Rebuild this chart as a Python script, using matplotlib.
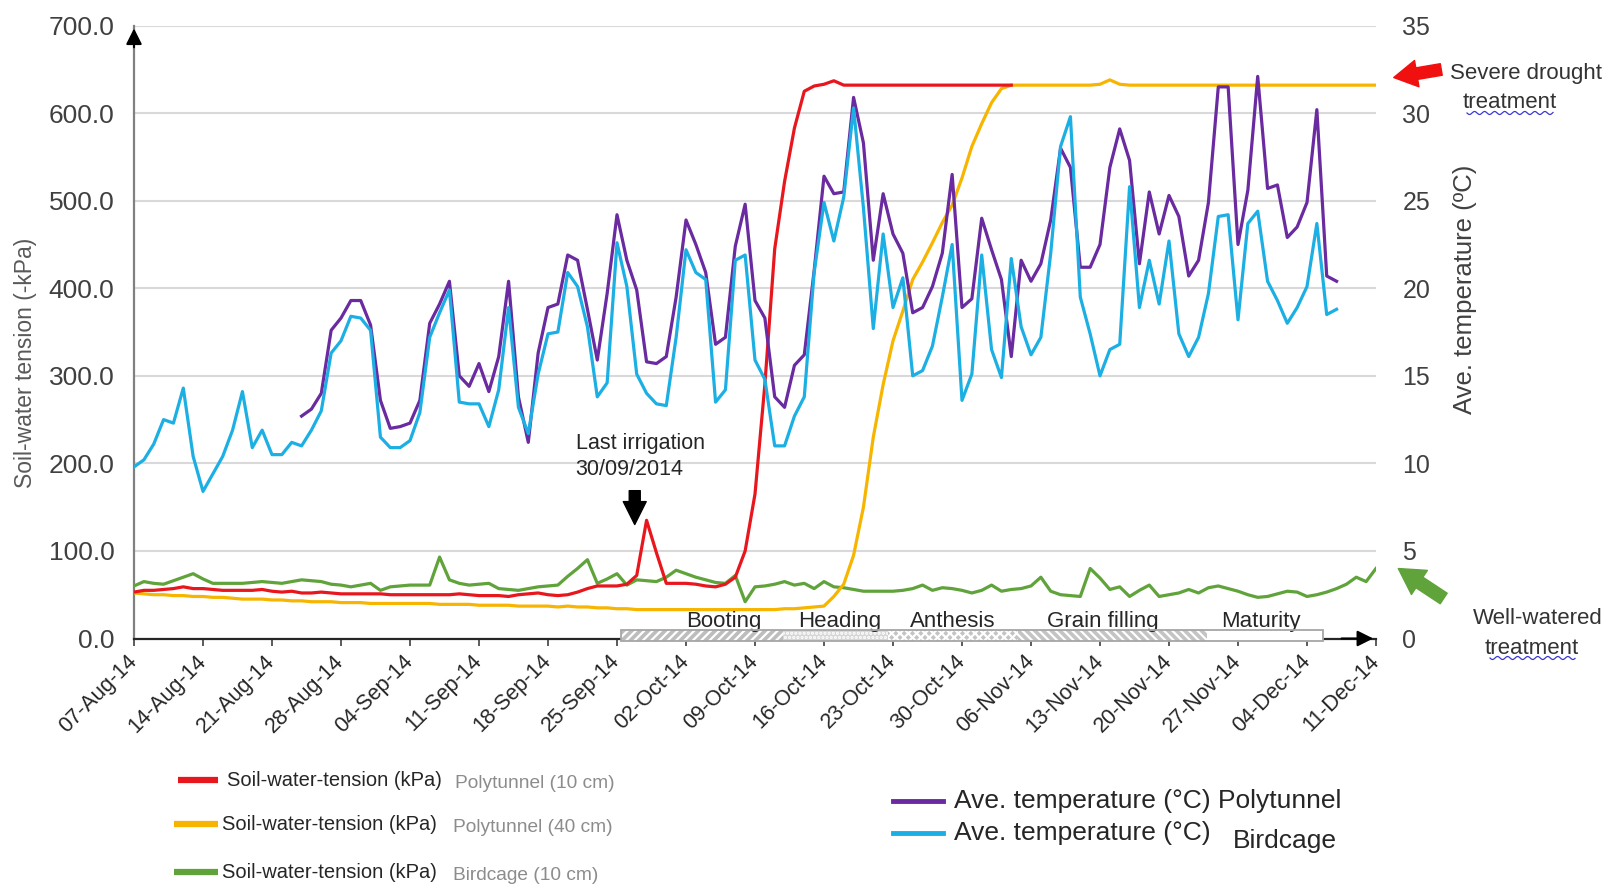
import numpy as np
import matplotlib
matplotlib.use("Agg")
import matplotlib.pyplot as plt
from matplotlib import font_manager
from matplotlib.lines import Line2D
from matplotlib.ticker import FormatStrFormatter

plt.rcParams['font.family'] = 'Liberation Sans'
plt.rcParams['hatch.linewidth'] = 1.6

W, H = 1604, 892

# x = days since 07-Aug-2014
tick_days = list(range(0, 127, 7))
tick_labels = ["07-Aug-14", "14-Aug-14", "21-Aug-14", "28-Aug-14", "04-Sep-14", "11-Sep-14",
               "18-Sep-14", "25-Sep-14", "02-Oct-14", "09-Oct-14", "16-Oct-14", "23-Oct-14",
               "30-Oct-14", "06-Nov-14", "13-Nov-14", "20-Nov-14", "27-Nov-14", "04-Dec-14",
               "11-Dec-14"]

# soil-water tension (kPa), polytunnel 10 cm, days 0..89
swt_poly10 = [53, 55, 55, 56, 57, 59, 57, 57, 56, 55,
              55, 55, 55, 56, 54, 53, 54, 52, 52, 53,
              52, 51, 51, 51, 51, 51, 50, 50, 50, 50,
              50, 50, 50, 51, 50, 49, 49, 49, 48, 50,
              51, 52, 50, 49, 50, 53, 57, 60, 60, 60,
              62, 72, 135, 98, 63, 63, 63, 62, 60, 59,
              62, 70, 100, 165, 290, 445, 522, 583, 625, 631,
              633, 637, 632, 632, 632, 632, 632, 632, 632, 632,
              632, 632, 632, 632, 632, 632, 632, 632, 632, 632]

# soil-water tension (kPa), polytunnel 40 cm, days 0..126
swt_poly40 = [52, 51, 50, 50, 49, 49, 48, 48, 47, 47,
              46, 45, 45, 45, 44, 44, 43, 43, 42, 42,
              42, 41, 41, 41, 40, 40, 40, 40, 40, 40,
              40, 39, 39, 39, 39, 38, 38, 38, 38, 37,
              37, 37, 37, 36, 37, 36, 36, 35, 35, 34,
              34, 33, 33, 33, 33, 33, 33, 33, 33, 33,
              33, 33, 33, 33, 33, 33, 34, 34, 35, 36,
              37, 48, 62, 95, 150, 230, 290, 340, 374, 410,
              430, 452, 475, 495, 526, 562, 588, 612, 628, 632,
              632, 632, 632, 632, 632, 632, 632, 632, 633, 638,
              633, 632, 632, 632, 632, 632, 632, 632, 632, 632,
              632, 632, 632, 632, 632, 632, 632, 632, 632, 632,
              632, 632, 632, 632, 632, 632, 632]

# soil-water tension (kPa), birdcage 10 cm, days 0..126
swt_bird10 = [60, 65, 63, 62, 66, 70, 74, 68, 63, 63,
              63, 63, 64, 65, 64, 63, 65, 67, 66, 65,
              62, 61, 59, 61, 63, 55, 59, 60, 61, 61,
              61, 93, 67, 63, 61, 62, 63, 57, 56, 55,
              57, 59, 60, 61, 71, 80, 90, 63, 68, 74,
              61, 67, 66, 65, 70, 78, 74, 70, 67, 64,
              63, 72, 42, 59, 60, 62, 65, 61, 63, 57,
              65, 59, 58, 56, 54, 54, 54, 54, 55, 57,
              61, 55, 58, 57, 55, 52, 55, 61, 54, 56,
              57, 60, 70, 54, 50, 49, 48, 80, 69, 56,
              59, 48, 55, 61, 48, 50, 52, 56, 52, 58,
              60, 57, 54, 50, 47, 48, 51, 54, 53, 48,
              50, 53, 57, 62, 70, 65, 80]

# average temperature (C), polytunnel, days 17..122
temp_poly_start = 17
temp_poly = [12.7, 13.1, 14.0,
             17.6, 18.3, 19.3, 19.3, 17.9, 13.6, 12.0, 12.1, 12.3, 13.6,
             18.0, 19.1, 20.4, 15.0, 14.4, 15.7, 14.1, 16.1, 20.4, 13.8,
             11.2, 16.3, 18.9, 19.1, 21.9, 21.6, 18.8, 15.9, 19.7, 24.2,
             21.6, 19.9, 15.8, 15.7, 16.1, 19.5, 23.9, 22.5, 20.9, 16.8,
             17.2, 22.4, 24.8, 19.3, 18.3, 13.8, 13.2, 15.6, 16.2, 21.0,
             26.4, 25.4, 25.5, 30.9, 28.3, 21.6, 25.4, 23.1, 22.0, 18.6,
             18.9, 20.1, 22.0, 26.5, 18.9, 19.4, 24.0, 22.2, 20.5, 16.1,
             21.6, 20.4, 21.4, 23.9, 28.0, 26.9, 21.2, 21.2, 22.5, 26.9,
             29.1, 27.3, 21.4, 25.5, 23.1, 25.3, 24.1, 20.7, 21.6, 24.9,
             31.5, 31.5, 22.5, 25.6, 32.1, 25.7, 25.9, 22.9, 23.5, 24.9,
             30.2, 20.7, 20.4]

# average temperature (C), birdcage, days 0..122
temp_bird = [9.8, 10.2, 11.1, 12.5, 12.3, 14.3, 10.4, 8.4, 9.4, 10.4,
             11.9, 14.1, 10.9, 11.9, 10.5, 10.5, 11.2, 11.0, 11.9, 13.0,
             16.3, 17.0, 18.4, 18.3, 17.6, 11.5, 10.9, 10.9, 11.3, 12.9,
             17.2, 18.6, 19.9, 13.5, 13.4, 13.4, 12.1, 14.2, 18.9, 13.2,
             11.7, 15.1, 17.4, 17.5, 20.9, 20.1, 17.8, 13.8, 14.6, 22.6,
             20.1, 15.1, 14.0, 13.4, 13.3, 17.2, 22.2, 20.9, 20.5, 13.5,
             14.2, 21.6, 21.9, 15.9, 14.8, 11.0, 11.0, 12.7, 13.8, 20.9,
             24.9, 22.7, 25.2, 30.3, 24.6, 17.7, 23.1, 18.9, 20.6, 15.0,
             15.3, 16.7, 19.5, 22.5, 13.6, 15.1, 21.9, 16.5, 14.9, 21.7,
             17.8, 16.2, 17.2, 22.0, 28.1, 29.8, 19.5, 17.4, 15.0, 16.5,
             16.8, 25.8, 18.9, 21.6, 19.1, 22.7, 17.4, 16.1, 17.2, 19.7,
             24.1, 24.2, 18.2, 23.7, 24.4, 20.4, 19.3, 18.0, 18.9, 20.1,
             23.7, 18.5, 18.8]

# growth stages (day boundaries)
stage_names = ["Booting", "Heading", "Anthesis", "Grain filling", "Maturity"]
stage_edges = [49.4, 65.8, 76.5, 89.7, 108.9, 120.6]

stage_label_x = [59.8, 71.6, 83.1, 98.3, 114.3]
stage_hatch = ["////", "....", "xxxx", "\\\\\\\\", ""]
stage_face = ["#bdbdbd", "#d6d6d6", "#c4c4c4", "#c4c4c4", "white"]

c_red = "#e8161d"
c_orange = "#f7b500"
c_green = "#5fa33a"
c_purple = "#6a2aa0"
c_cyan = "#1cafe4"


def fp(x, y):
    # full-size pixel -> figure fraction
    return (x / W, 1 - y / H)


names = {f.name for f in font_manager.fontManager.ttflist}
narrow = "Liberation Sans Narrow" in names
leg_font = "Liberation Sans Narrow" if narrow else "Liberation Sans"
leg_size = 17.5 if narrow else 14.5
leg_size2 = 16 if narrow else 13.8

fig = plt.figure(figsize=(W / 100, H / 100), dpi=100)
ax = fig.add_axes([134 / W, 1 - 638.5 / H, 1242 / W, 612.9 / H])

d_all = np.arange(len(swt_poly40))
ax.plot(d_all, swt_bird10, color=c_green, lw=2.3, zorder=3)
ax.plot(d_all, swt_poly40, color=c_orange, lw=2.3, zorder=3)
ax.plot(np.arange(len(swt_poly10)), swt_poly10, color=c_red, lw=2.3, zorder=4)

ax.set_xlim(0, 126)
ax.set_ylim(0, 700)
ax.set_yticks(np.arange(0, 701, 100))
ax.yaxis.set_major_formatter(FormatStrFormatter('%.1f'))
ax.grid(axis='y', color='#d9d9d9', lw=1.5)
ax.set_axisbelow(True)
for s in ['top', 'right']:
    ax.spines[s].set_visible(False)
ax.spines['left'].set_color('#808080')
ax.spines['left'].set_linewidth(1.6)
ax.spines['bottom'].set_color('#262626')
ax.spines['bottom'].set_linewidth(1.6)
ax.tick_params(axis='y', length=0, pad=14, labelsize=19, labelcolor='#404040')
ax.set_xticks(tick_days)
ax.set_xticklabels(tick_labels, rotation=45, ha='right', va='center', rotation_mode='anchor')
ax.tick_params(axis='x', length=5, width=1.2, color='#404040', pad=9, labelsize=15.5,
               labelcolor='#262626')

ax.set_ylabel('Soil-water tension (-kPa)', fontsize=16.5, color='#595959')
ax.yaxis.set_label_coords(-0.078, 0.45)

# arrow heads on the axes
ax.annotate('', xy=(0, 1.0), xytext=(0, 0.96), xycoords='axes fraction',
            arrowprops=dict(arrowstyle='-|>', color='black', lw=1.5, mutation_scale=24))
ax.annotate('', xy=(1.0, 0), xytext=(0.97, 0), xycoords='axes fraction',
            arrowprops=dict(arrowstyle='-|>', color='black', lw=1.5, mutation_scale=24))

# growth stage bar
for i, name in enumerate(stage_names):
    left = stage_edges[i]
    width = stage_edges[i + 1] - stage_edges[i]
    ax.barh(3.5, width, left=left, height=12, color=stage_face[i], hatch=stage_hatch[i],
            edgecolor='white', linewidth=0, zorder=5, clip_on=False)
    ax.text(stage_label_x[i], 13, name, ha='center', va='baseline', fontsize=16,
            color='#262626', zorder=6)
ax.barh(3.5, stage_edges[-1] - stage_edges[0], left=stage_edges[0], height=12, fill=False,
        edgecolor='#a6a6a6', linewidth=1.3, zorder=6, clip_on=False)

# last irrigation
ax.text(44.8, 208, 'Last irrigation\n30/09/2014', ha='left', va='center', fontsize=15.5,
        color='#262626', linespacing=1.3)
ax.annotate('', xy=(50.8, 127), xytext=(50.8, 172),
            arrowprops=dict(arrowstyle='simple,head_width=0.75,head_length=0.75,tail_width=0.36',
                            color='black', mutation_scale=22))

ax2 = ax.twinx()
ax2.plot(np.arange(temp_poly_start, temp_poly_start + len(temp_poly)), temp_poly,
         color=c_purple, lw=2.3)
ax2.plot(np.arange(len(temp_bird)), temp_bird, color=c_cyan, lw=2.3)
ax2.set_ylim(0, 35)
ax2.set_yticks(np.arange(0, 36, 5))
for s in ax2.spines.values():
    s.set_visible(False)
ax2.tick_params(axis='y', length=0, pad=19, labelsize=18, labelcolor='#404040')
ax2.set_ylabel('Ave. temperature (ºC)', fontsize=18.5, color='#404040')
ax2.yaxis.set_label_coords(1.062, 0.57)

# treatment callouts
ax.annotate('', xy=fp(1391, 78), xycoords='figure fraction', xytext=fp(1444, 69),
            textcoords='figure fraction',
            arrowprops=dict(arrowstyle='simple,head_width=0.8,head_length=0.7,tail_width=0.35',
                            color='#f01010', mutation_scale=24))
fig.text(*fp(1450, 74), 'Severe drought', ha='left', va='center', fontsize=16, color='#333333')
fig.text(*fp(1510, 102), 'treatment', ha='center', va='center', fontsize=16, color='#333333')

ax.annotate('', xy=fp(1396, 567), xycoords='figure fraction', xytext=fp(1446, 600),
            textcoords='figure fraction',
            arrowprops=dict(arrowstyle='simple,head_width=0.8,head_length=0.7,tail_width=0.35',
                            color=c_green, mutation_scale=26))
fig.text(*fp(1473, 619), 'Well-watered', ha='left', va='center', fontsize=16, color='#333333')
fig.text(*fp(1532, 648), 'treatment', ha='center', va='center', fontsize=16, color='#333333')

# spell-check squiggles under "treatment"
for x0, x1, y0 in [(1467, 1553, 113), (1490, 1575, 658)]:
    xs = np.linspace(x0, x1, 120)
    ys = y0 + 1.5 * np.sin((xs - x0) / 1.6)
    fig.add_artist(Line2D(xs / W, 1 - ys / H, color='#3a3ad0', lw=0.9))

# legend, soil-water tension
leg_rows = [(c_red, 178, 780, 'Polytunnel (10 cm)', 227, 455),
            (c_orange, 174, 824, 'Polytunnel (40 cm)', 222, 453),
            (c_green, 174, 872, 'Birdcage (10 cm)', 222, 453)]
for col, x0, y0, sub, tx, sx in leg_rows:
    fig.add_artist(Line2D([x0 / W, 218 / W], [1 - y0 / H] * 2, color=col, lw=4.5,
                          solid_capstyle='butt'))
    fig.text(*fp(tx, y0), 'Soil-water-tension (kPa)', ha='left', va='center',
             fontsize=leg_size, family=leg_font, color='#262626')
    fig.text(*fp(sx, y0 + 4), sub, ha='left', va='center', fontsize=leg_size2,
             family=leg_font, color='#8c8c8c')

# legend, temperature
fig.add_artist(Line2D([893 / W, 943 / W], [1 - 801 / H] * 2, color=c_purple, lw=3.5))
fig.text(*fp(954, 801), 'Ave. temperature (°C) Polytunnel', ha='left', va='center',
         fontsize=19, color='#262626')
fig.add_artist(Line2D([893 / W, 943 / W], [1 - 833 / H] * 2, color=c_cyan, lw=3.5))
fig.text(*fp(954, 833), 'Ave. temperature (°C)', ha='left', va='center',
         fontsize=19, color='#262626')
fig.text(*fp(1233, 841), 'Birdcage', ha='left', va='center', fontsize=19, color='#262626')

fig.savefig('out.png', dpi=100)
